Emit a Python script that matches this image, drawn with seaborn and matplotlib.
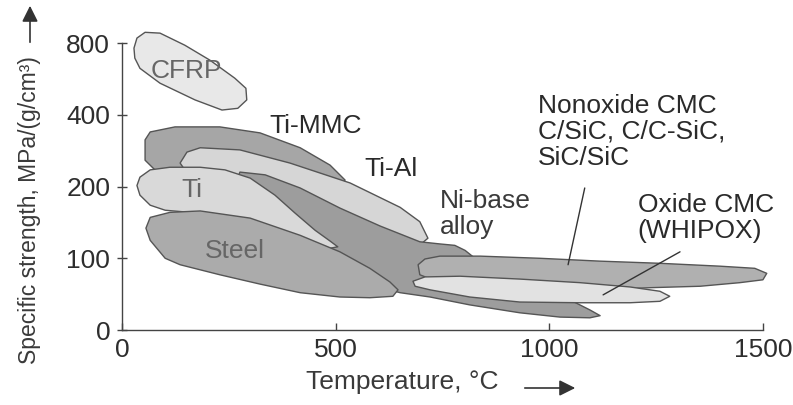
import numpy as np
import pandas as pd
import matplotlib
matplotlib.use("Agg")
import matplotlib.pyplot as plt
import seaborn as sns

# ---------------- data (temperature °C, specific strength MPa/(g/cm3)) ----------------
cfrp_T = [35, 54, 89, 147, 206, 264, 290, 292, 271, 234, 171, 89, 42, 30, 28]
cfrp_S = [840, 888, 881, 784, 678, 570, 517, 462, 426, 419, 462, 543, 627, 692, 762]

timmc_T = [54, 66, 124, 229, 323, 417, 487, 522, 510, 370, 183, 77, 54]
timmc_S = [314, 339, 356, 356, 336, 291, 246, 213, 195, 203, 217, 235, 258]

tial_T = [136, 152, 183, 276, 393, 534, 651, 697, 716, 702, 604, 417, 229, 147]
tial_S = [251, 279, 291, 285, 251, 207, 171, 151, 128, 121, 139, 181, 213, 235]

ni_T = [276, 335, 417, 510, 604, 697, 744, 779, 803, 826, 931, 1025, 1095, 1119,
        1095, 1025, 931, 814, 721, 651, 580, 487, 393, 311, 271]
ni_S = [230, 224, 198, 170, 145, 123, 120, 118, 111, 100, 77, 49, 28, 20,
        17, 18, 24, 35, 46, 52, 63, 98, 146, 192, 217]

ti_T = [42, 66, 112, 183, 241, 300, 358, 405, 452, 487, 505, 487, 452, 393, 323,
        253, 159, 101, 66, 42, 35]
ti_S = [219, 235, 241, 241, 235, 217, 188, 163, 139, 124, 116, 114, 120, 131, 145,
        156, 164, 167, 174, 188, 202]

steel_T = [66, 112, 183, 300, 417, 510, 580, 627, 646, 634, 580, 510, 417, 323,
           229, 136, 101, 66, 56]
steel_S = [157, 164, 166, 156, 132, 109, 86, 67, 56, 47, 45, 46, 52, 64,
           77, 91, 100, 125, 142]

nonox_T = [693, 709, 744, 838, 978, 1119, 1259, 1399, 1481, 1509, 1500, 1446,
           1353, 1236, 1119, 978, 838, 744, 697]
nonox_S = [91, 99, 103, 103, 100, 96, 93, 89, 86, 79, 70, 66,
           61, 59, 56, 56, 59, 66, 77]

oxide_T = [681, 709, 791, 931, 1072, 1189, 1259, 1282, 1259, 1189, 1072, 931, 814, 721, 686]
oxide_S = [68, 74, 75, 71, 66, 60, 54, 47, 40, 38, 38, 39, 46, 56, 61]

region_names = ["Ti-MMC", "Ti-Al", "Ni-base alloy", "Ti", "Steel", "CFRP",
                "Nonoxide CMC", "Oxide CMC"]
region_T = [timmc_T, tial_T, ni_T, ti_T, steel_T, cfrp_T, nonox_T, oxide_T]
region_S = [timmc_S, tial_S, ni_S, ti_S, steel_S, cfrp_S, nonox_S, oxide_S]
region_fill = ["#a6a6a6", "#d6d6d6", "#9d9d9d", "#d9d9d9", "#ababab", "#e8e8e8",
               "#b0b0b0", "#e2e2e2"]

label_text = ["CFRP", "Ti-MMC", "Ti-Al", "Ti", "Steel", "Ni-base\nalloy",
              "Nonoxide CMC\nC/SiC, C/C-SiC,\nSiC/SiC", "Oxide CMC\n(WHIPOX)"]
label_T = [150, 452, 630, 164, 264, 744, 973, 1207]
label_S = [611, 358, 238, 195, 110, 162, 339, 156]
label_ha = ["center", "center", "center", "center", "center", "left", "left", "left"]
label_col = ["#666666", "#2a2a2a", "#2a2a2a", "#666666", "#666666", "#3a3a3a",
             "#2a2a2a", "#2a2a2a"]

leader_T = [[1083, 1044], [1306, 1126]]
leader_S = [[198, 91], [109, 49]]

x_ticks = [0, 500, 1000, 1500]
y_ticks = [0, 100, 200, 400, 800]

# ---------------- scale ----------------
def fwd(v):
    v = np.asarray(v, dtype=float)
    lo = v / 100.0
    hi = 2 + np.log2(np.maximum(v, 1e-9) / 200.0)
    return np.where(v <= 200, lo, hi)

def inv(i):
    i = np.asarray(i, dtype=float)
    return np.where(i <= 2, i * 100.0, 200.0 * 2 ** (i - 2))

sns.set_theme(style="white")
plt.rcParams['font.family'] = ['Liberation Sans', 'DejaVu Sans']

fig = plt.figure(figsize=(7.93, 4.05), dpi=100)
ax = fig.add_axes([122 / 793, 75 / 405, 658 / 793, 301.35 / 405])
ax.set_yscale('function', functions=(fwd, inv))
ax.set_xlim(0, 1540)
ax.set_ylim(0, 920)

for T, S, fc in zip(region_T, region_S, region_fill):
    ax.fill(T, S, facecolor=fc, edgecolor="#555555", linewidth=1.0, joinstyle="round")

for T, S in zip(leader_T, leader_S):
    df = pd.DataFrame({"T": T, "S": S})
    sns.lineplot(data=df, x="T", y="S", ax=ax, color="#333333", linewidth=1.0, sort=False)

for t, x, y, ha, c in zip(label_text, label_T, label_S, label_ha, label_col):
    ax.text(x, y, t, ha=ha, va="center", fontsize=19, color=c, linespacing=1.12)

ax.set_xticks(x_ticks)
ax.set_yticks(y_ticks)
ax.set_yticklabels([str(v) for v in y_ticks])
ax.set_xticklabels([str(v) for v in x_ticks])
ax.yaxis.set_minor_locator(matplotlib.ticker.NullLocator())
for s in ["top", "right"]:
    ax.spines[s].set_visible(False)
ax.spines["left"].set_bounds(0, 800)
ax.spines["bottom"].set_bounds(0, 1500)
for s in ["left", "bottom"]:
    ax.spines[s].set_color("#444444")
    ax.spines[s].set_linewidth(1.0)
ax.tick_params(axis="y", direction="inout", length=7, width=1, color="#444444",
               pad=5, labelsize=19, labelcolor="#2e2e2e", left=True)
ax.tick_params(axis="x", direction="in", length=5, width=1, color="#444444",
               pad=6, labelsize=19, labelcolor="#2e2e2e", bottom=True)

ax.set_xlabel("Temperature, °C", fontsize=19, color="#3a3a3a")
ax.xaxis.label.set_va("center")
ax.xaxis.set_label_coords(0.4255, -0.1726)
ax.set_ylabel("")

fig.text(30 / 793, 1 - 210 / 405, "Specific strength, MPa/(g/cm³)", rotation=90,
         ha="center", va="center", fontsize=16.5, color="#3a3a3a")
ax.annotate("", xy=(30, 402), xytext=(30, 360), xycoords="figure pixels",
            textcoords="figure pixels",
            arrowprops=dict(arrowstyle="-|>", color="#333333", lw=1.2, mutation_scale=24))
ax.annotate("", xy=(578, 17), xytext=(522, 17), xycoords="figure pixels",
            textcoords="figure pixels",
            arrowprops=dict(arrowstyle="-|>", color="#333333", lw=1.2, mutation_scale=24))

fig.savefig("out.png", dpi=100, facecolor="white")
